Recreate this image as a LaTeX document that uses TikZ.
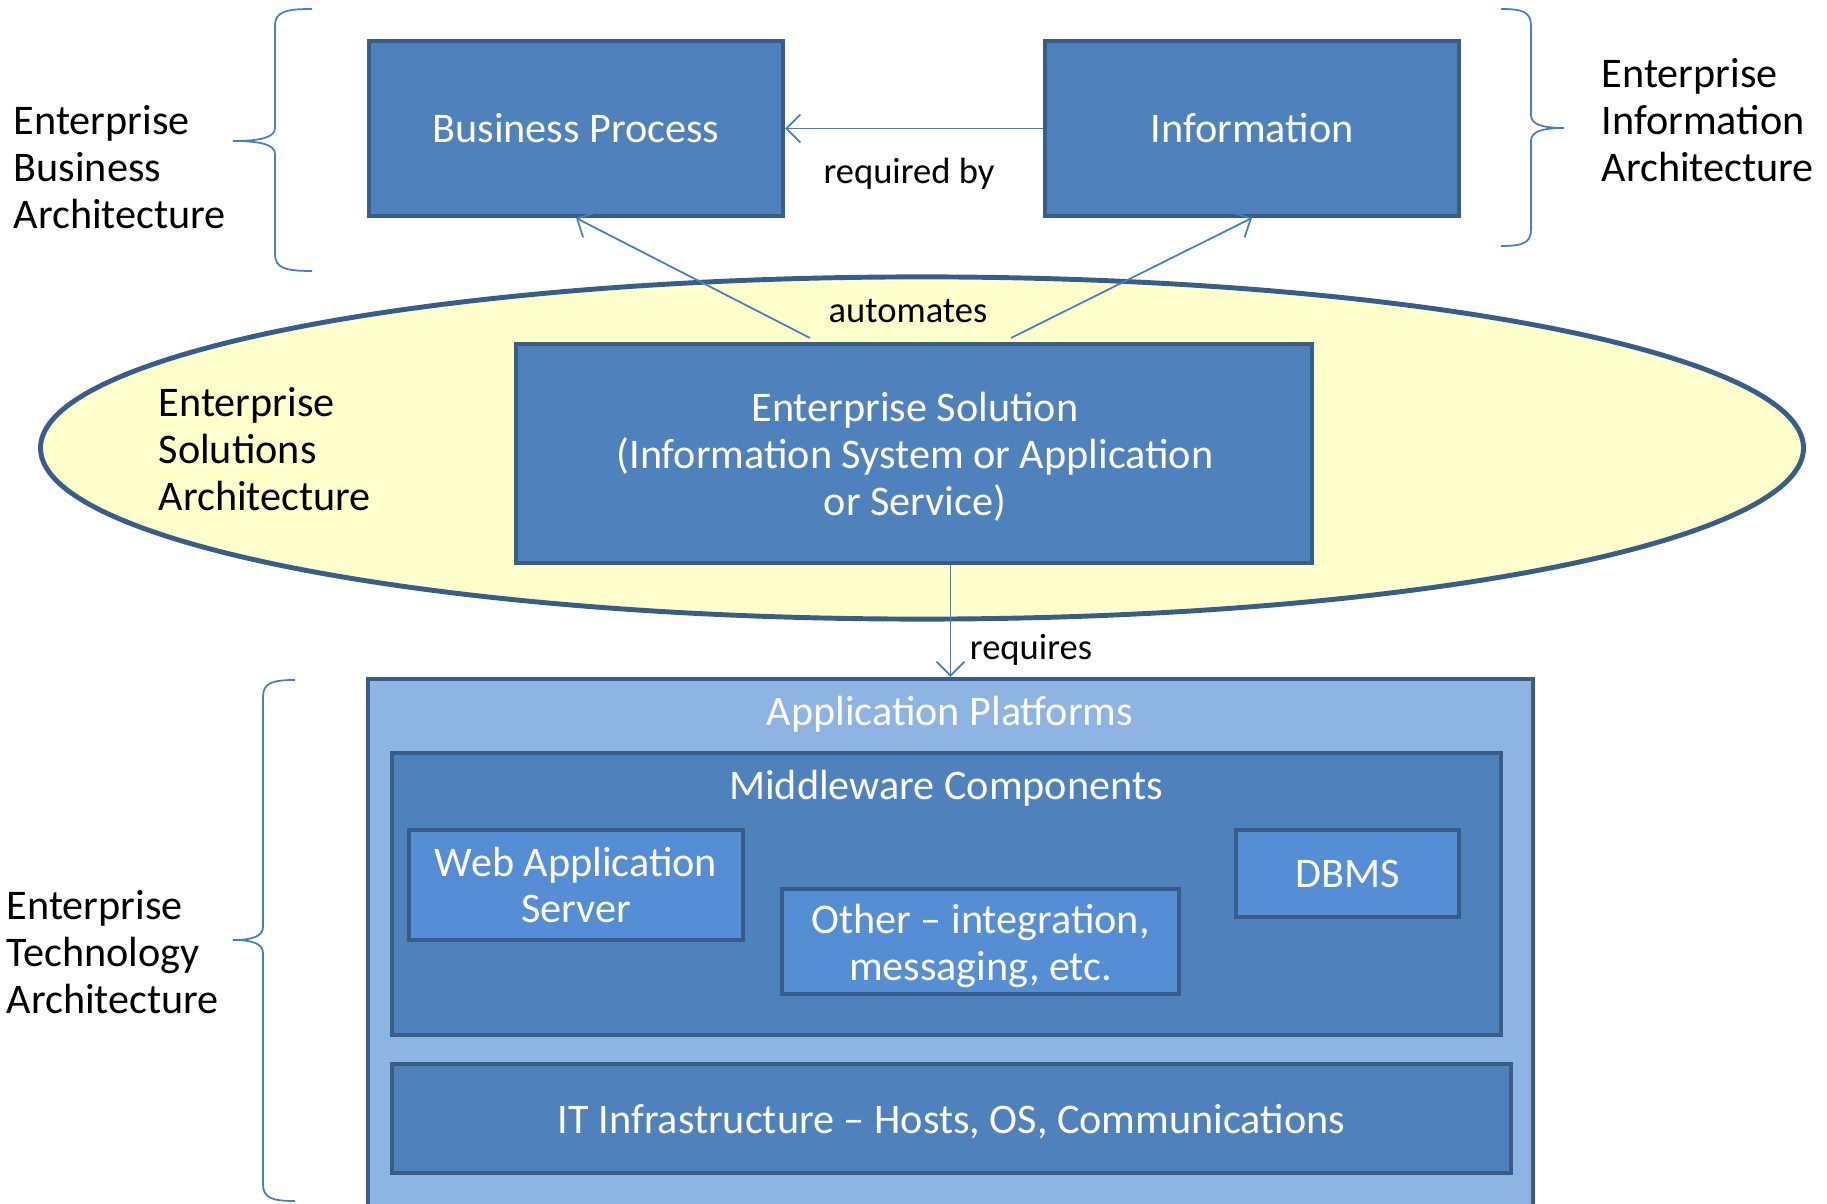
\documentclass[tikz,border=0pt]{standalone}
\usepackage{fontspec}
\setmainfont{Carlito}
\usetikzlibrary{arrows.meta,shapes.geometric}
\definecolor{boxblue}{HTML}{4F81BD}
\definecolor{edgeblue}{HTML}{385D8A}
\definecolor{compblue}{HTML}{558ED5}
\definecolor{platblue}{HTML}{8EB4E3}
\definecolor{paleyellow}{HTML}{FFFFCC}
\definecolor{linkblue}{HTML}{4A7EBB}

\begin{document}
\begin{tikzpicture}[x=0.01cm,y=-0.01cm,
  boxfont/.style={font=\fontsize{12}{13.3}\selectfont},
  box/.style={draw=edgeblue, line width=1.1pt, fill=boxblue, text=white,
    align=center, inner sep=0pt, boxfont},
  comp/.style={box, fill=compblue},
  title/.style={text=white, inner sep=0pt, boxfont},
  lbl/.style={font=\fontsize{10.4}{12}\selectfont, inner sep=0pt},
  side/.style={align=left, anchor=west, inner sep=0pt, boxfont},
  arr/.style={draw=linkblue, line width=0.5pt, -{Straight Barb[length=4pt,width=8pt]}},
  bracket/.style={draw=linkblue, line width=0.5pt}
]
\useasboundingbox (0,0) rectangle (1827,1204);

% top layer: business process and information
\node[box, minimum width=4.14cm, minimum height=1.75cm] (bp) at (576,128.5) {Business Process};
\node[box, minimum width=4.14cm, minimum height=1.75cm] (info) at (1252,128.5) {Information};
\draw[arr] (info.west) -- (bp.east);
\node[lbl] (reqby) at (909,173.5) {required by};

% solutions layer
\node[ellipse, draw=edgeblue, line width=1.4pt, fill=paleyellow, inner sep=0pt,
  minimum width=17.62cm, minimum height=3.42cm] (sol) at (922,448) {};
\node[box, minimum width=7.96cm, minimum height=2.19cm] (es) at (914,453.5) {};
\node[title, align=center] (estext) at (915,457)
  {Enterprise Solution\\(Information System or Application\\or Service)};
\coordinate (a1) at (810,338);
\coordinate (a2) at (1011,338);
\draw[arr] (a1) -- (bp.south);
\draw[arr] (a2) -- (info.south);
\node[lbl] (autom) at (908,311) {automates};

% technology layer
\node[draw=edgeblue, line width=1.1pt, fill=platblue, inner sep=0pt,
  minimum width=11.65cm, minimum height=5.31cm] (ap) at (950.5,944.5) {};
\node[title] (aptitle) at (950,714.5) {Application Platforms};
\node[box, minimum width=11.09cm, minimum height=2.82cm] (mw) at (946.5,894) {};
\node[title] (mwtitle) at (946,788.5) {Middleware Components};
\node[comp, minimum width=3.34cm, minimum height=1.10cm] (web) at (576,885) {Web Application\\Server};
\node[comp, minimum width=3.97cm, minimum height=1.05cm] (other) at (980.5,941.5) {};
\node[title, align=center] (othertext) at (980.5,946) {Other -- integration,\\messaging, etc.};
\node[comp, minimum width=2.23cm, minimum height=0.87cm] (dbms) at (1347.5,873.5) {DBMS};
\node[box, minimum width=11.19cm, minimum height=1.09cm] (it) at (951.5,1118.5) {};
\node[title] (ittext) at (951.5,1122) {IT Infrastructure -- Hosts, OS, Communications};
\draw[arr] (ap.north |- es.south) -- (ap.north);
\node[lbl] (reqs) at (1031,649.5) {requires};

% architecture labels
\node[side] (eba) at (13,167) {Enterprise\\Business\\Architecture};
\node[side] (eia) at (1601,120) {Enterprise\\Information\\Architecture};
\node[side] (esa) at (158,449) {Enterprise\\Solutions\\Architecture};
\node[side] (eta) at (6,952) {Enterprise\\Technology\\Architecture};

% curly brackets
\draw[bracket] (312,9) .. controls (285,9) and (275,12) .. (275,26) -- (275,128)
  .. controls (275,137) and (262,141) .. (233,141)
  .. controls (262,141) and (275,145) .. (275,154) -- (275,254)
  .. controls (275,268) and (285,271) .. (312,271);
\draw[bracket] (1501,9) .. controls (1523,9) and (1531,12) .. (1531,26) -- (1531,115)
  .. controls (1531,124) and (1541,128) .. (1564,128)
  .. controls (1541,128) and (1531,132) .. (1531,141) -- (1531,229)
  .. controls (1531,243) and (1523,246) .. (1501,246);
\draw[bracket] (295,680) .. controls (272,680) and (263,683) .. (263,697) -- (263,927)
  .. controls (263,936) and (253,940) .. (233,940)
  .. controls (253,940) and (263,944) .. (263,953) -- (263,1184)
  .. controls (263,1198) and (272,1201) .. (295,1201);
\end{tikzpicture}
\end{document}
